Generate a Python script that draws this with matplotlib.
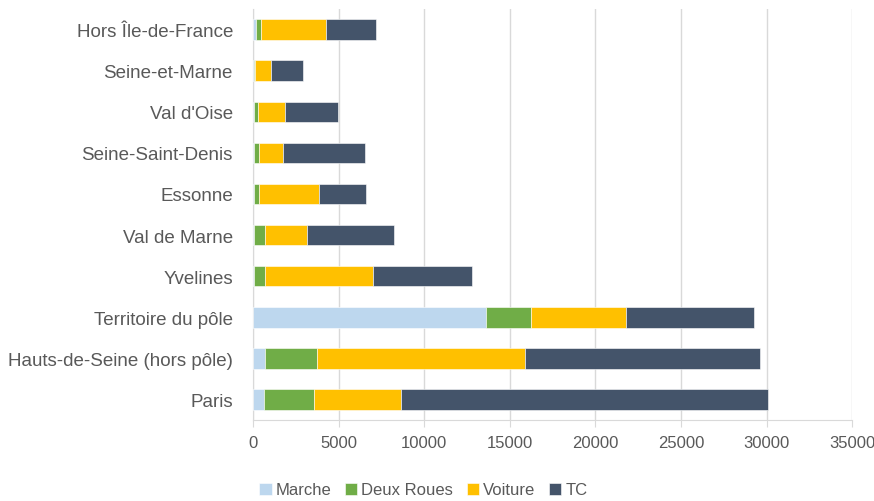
import matplotlib
matplotlib.use("Agg")
import matplotlib.pyplot as plt
from matplotlib import font_manager

categories = ["Hors Île-de-France", "Seine-et-Marne", "Val d'Oise", "Seine-Saint-Denis",
              "Essonne", "Val de Marne", "Yvelines", "Territoire du pôle",
              "Hauts-de-Seine (hors pôle)", "Paris"]
marche = [200, 30, 50, 50, 50, 50, 50, 13620, 720, 645]
deux_roues = [250, 80, 250, 320, 320, 670, 670, 2620, 2990, 2905]
voiture = [3800, 960, 1580, 1370, 3475, 2420, 6310, 5540, 12180, 5115]
tc = [2950, 1840, 3080, 4780, 2755, 5080, 5760, 7510, 13755, 21410]
series_names = ["Marche", "Deux Roues", "Voiture", "TC"]
colors = ["#BDD7EE", "#70AD47", "#FFC000", "#44546A"]
xticks = [0, 5000, 10000, 15000, 20000, 25000, 30000, 35000]

names = {f.name for f in font_manager.fontManager.ttflist}
fam = "Liberation Sans Narrow" if "Liberation Sans Narrow" in names else "Liberation Sans"
plt.rcParams["font.family"] = [fam, "DejaVu Sans"]

fig = plt.figure(figsize=(8.74, 5.02), dpi=100)
ax = fig.add_axes([0.2895, 0.1614, 0.975 - 0.2895, 0.980 - 0.1614])

ypos = list(range(len(categories)))
left = [0] * len(categories)
for name, vals, c in zip(series_names, [marche, deux_roues, voiture, tc], colors):
    ax.barh(ypos, vals, left=left, height=0.5, color=c, label=name,
            edgecolor="#ffffff", linewidth=0.4, zorder=3)
    left = [l + v for l, v in zip(left, vals)]

ax.set_ylim(len(categories) - 0.5, -0.5)
ax.set_xlim(0, 35000)
ax.set_yticks(ypos)
ax.set_yticklabels(categories, fontsize=13.5, color="#595959")
ax.set_xticks(xticks)
ax.set_xticklabels([str(t) for t in xticks], fontsize=12, color="#595959")
ax.grid(axis="x", color="#d9d9d9", linewidth=1, zorder=0)
for s in ["top", "right"]:
    ax.spines[s].set_visible(False)
ax.spines["left"].set_color("#d9d9d9")
ax.spines["bottom"].set_color("#d9d9d9")
ax.tick_params(axis="y", length=0, pad=14.5)
ax.tick_params(axis="x", length=5, color="#d9d9d9", pad=6)

fig.legend(loc="center left", bbox_to_anchor=(259 / 874, 1 - 491 / 502), ncol=4, frameon=False,
           fontsize=12, handlelength=0.75, handleheight=0.75, handletextpad=0.25,
           columnspacing=0.8, labelcolor="#595959", borderpad=0, borderaxespad=0)

fig.savefig("out.png", dpi=100)
